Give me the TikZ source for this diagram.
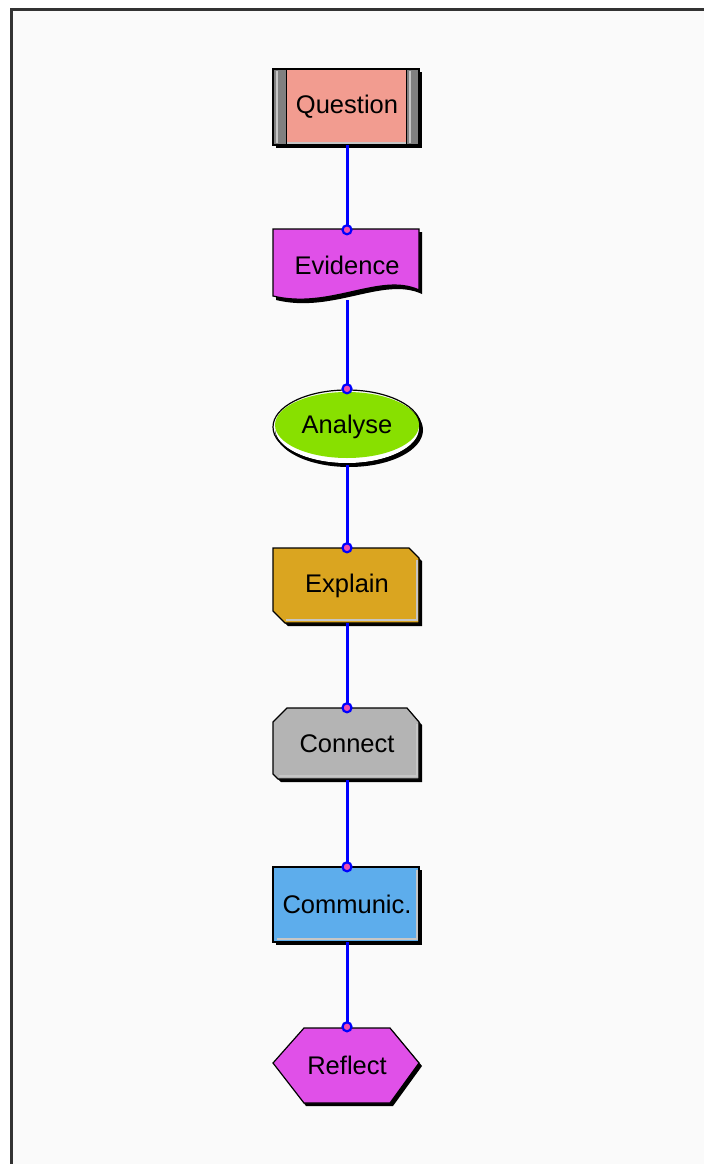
\documentclass[tikz,border=0pt]{standalone}
\usepackage{fontspec}
\setmainfont{Liberation Sans}
\usetikzlibrary{shapes.geometric}

\definecolor{qpink}{HTML}{F29C90}
\definecolor{evmag}{HTML}{E050E8}
\definecolor{angreen}{HTML}{88E000}
\definecolor{exgold}{HTML}{DAA520}
\definecolor{cogray}{HTML}{B4B4B4}
\definecolor{cmblue}{HTML}{5DADEC}
\definecolor{panel}{HTML}{FAFAFA}

\tikzset{
  lbl/.style={font=\fontsize{25.5}{30}\selectfont, minimum width=148pt, inner sep=0pt},
  outl/.style={draw=black, line width=1.2pt},
  bevel/.style={draw=gray!45, line width=2.2pt},
  link/.style={draw=blue, line width=3pt},
  pin/.style={circle, draw=blue, fill=magenta!70, line width=2.2pt, minimum size=9pt, inner sep=0pt},
}

\begin{document}
\begin{tikzpicture}[x=1pt, y=-1pt]
  \useasboundingbox (0,0) rectangle (704,1164);
  \fill[white] (0,0) rectangle (704,1164);
  \fill[panel] (11,10) rectangle (704,1164);
  \draw[line width=3pt, black!80] (11,1164) -- (11,10) -- (704,10);
  \def\xl{273}\def\xr{419}

  % Question
  \fill[black] (\xl+3,72) rectangle (\xr+3,148);
  \fill[qpink] (\xl,69) rectangle (\xr,145);
  \fill[gray!100] (\xl,69) rectangle (\xl+13,145);
  \fill[gray!100] (\xr-13,69) rectangle (\xr,145);
  \draw[gray!45, line width=2.5pt] (\xl+4,71) -- (\xl+4,143);
  \draw[gray!45, line width=2.5pt] (\xr-9,71) -- (\xr-9,143);
  \draw[bevel] (\xl+13,143) -- (\xr-13,143);
  \draw[outl] (\xl,69) rectangle (\xr,145);
  \draw[black, line width=1pt] (\xl+13,69) -- (\xl+13,145) (\xr-13,69) -- (\xr-13,145);

  % Evidence
  \fill[black] (\xl+3,232) -- (\xr+3,232) -- (\xr+3,294)
    .. controls (383,276) and (333,314) .. (\xl+3,300) -- cycle;
  \fill[evmag] (\xl,229) -- (\xr,229) -- (\xr,290)
    .. controls (380,272) and (330,310) .. (\xl,296) -- cycle;
  \draw[outl] (\xl,229) -- (\xr,229) -- (\xr,290)
    .. controls (380,272) and (330,310) .. (\xl,296) -- cycle;

  % Analyse
  \fill[black] (349,430) ellipse [x radius=74, y radius=37];
  \fill[white] (347,428) ellipse [x radius=72, y radius=35];
  \fill[angreen] (347,425) ellipse [x radius=72, y radius=33];
  \draw[outl] (347,427) ellipse [x radius=74, y radius=37];

  % Explain
  \fill[black] (\xl+3,551) -- (\xr-7,551) -- (\xr+3,561) -- (\xr+3,626)
    -- (\xl+15,626) -- (\xl+3,614) -- cycle;
  \fill[exgold] (\xl,548) -- (\xr-10,548) -- (\xr,558) -- (\xr,623)
    -- (\xl+12,623) -- (\xl,611) -- cycle;
  \draw[bevel] (\xr-2,560) -- (\xr-2,620) -- (\xl+13,620);
  \draw[outl] (\xl,548) -- (\xr-10,548) -- (\xr,558) -- (\xr,623)
    -- (\xl+12,623) -- (\xl,611) -- cycle;

  % Connect
  \fill[black] (\xl+17,711) -- (\xr-9,711) -- (\xr+3,725) -- (\xr+3,782)
    -- (\xl+8,782) -- (\xl+3,777) -- (\xl+3,725) -- cycle;
  \fill[cogray] (\xl+14,708) -- (\xr-12,708) -- (\xr,722) -- (\xr,779)
    -- (\xl+5,779) -- (\xl,774) -- (\xl,722) -- cycle;
  \draw[bevel] (\xr-2,724) -- (\xr-2,776) -- (\xl+6,776);
  \draw[outl] (\xl+14,708) -- (\xr-12,708) -- (\xr,722) -- (\xr,779)
    -- (\xl+5,779) -- (\xl,774) -- (\xl,722) -- cycle;

  % Communic.
  \fill[black] (\xl+3,870) rectangle (\xr+3,945);
  \fill[cmblue] (\xl,867) rectangle (\xr,942);
  \draw[bevel] (\xr-2,870) -- (\xr-2,939) -- (\xl+4,939);
  \draw[outl] (\xl,867) rectangle (\xr,942);

  % Reflect
  \fill[black] (306,1031) -- (393,1031) -- (\xr+3,1066) -- (393,1106)
    -- (306,1106) -- (\xl+3,1066) -- cycle;
  \fill[evmag] (304,1028) -- (390,1028) -- (\xr,1063) -- (390,1103)
    -- (304,1103) -- (\xl,1063) -- cycle;
  \draw[outl] (304,1028) -- (390,1028) -- (\xr,1063) -- (390,1103)
    -- (304,1103) -- (\xl,1063) -- cycle;

  % labels
  \node[lbl, minimum height=76pt] (q)  at (347,107)    {Question};
  \node[lbl, minimum height=70pt] (ev) at (347,265)    {Evidence};
  \node[lbl, ellipse, minimum height=76pt] (an) at (347,427) {Analyse};
  \node[lbl, minimum height=75pt] (ex) at (347,585.5)  {Explain};
  \node[lbl, minimum height=72pt] (co) at (347,744)    {Connect};
  \node[lbl, minimum height=75pt] (cm) at (347,904.5)  {Communic.};
  \node[lbl, minimum height=76pt] (re) at (347,1065)   {Reflect};

  \foreach \a/\b in {q/ev, ev/an, an/ex, ex/co, co/cm, cm/re} {
    \draw[link] (\a.south) -- (\b.north);
    \node[pin] (pin-\b) at (\b.north) {};
  }
\end{tikzpicture}
\end{document}
